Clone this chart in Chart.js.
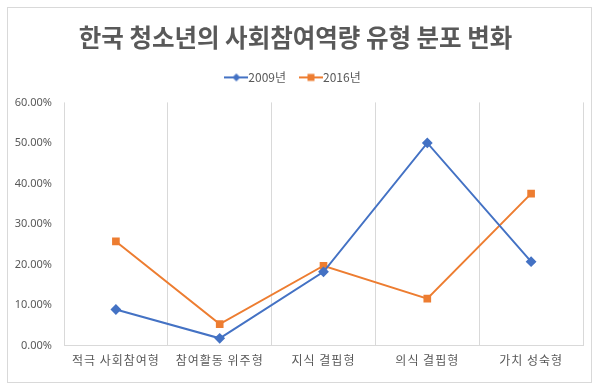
<!DOCTYPE html>
<html lang="ko">
<head>
<meta charset="UTF-8">
<title>한국 청소년의 사회참여역량 유형 분포 변화</title>
<script src="https://cdn.jsdelivr.net/npm/chart.js"></script>
<style>
    * { margin: 0; padding: 0; box-sizing: border-box; }
    body { background: #fff; width: 600px; height: 388px; position: relative; }
    .chart-box {
        position: absolute;
        left: 7px; top: 7px;
        width: 585px; height: 376px;
        border: 1px solid #d9d9d9;
        background: #fff;
    }
</style>
</head>
<body>
<div class="chart-box">
    <canvas id="c"></canvas>
</div>
<script>
const categories = ['적극 사회참여형', '참여활동 위주형', '지식 결핍형', '의식 결핍형', '가치 성숙형'];
const series2009 = [8.9, 1.8, 18.2, 50.0, 20.7];
const series2016 = [25.7, 5.3, 19.7, 11.6, 37.5];
const yTicks = [0, 10, 20, 30, 40, 50, 60];

const FONT = "'Noto Sans CJK KR', 'Noto Sans', sans-serif";
const BLUE = '#4472c4';
const ORANGE = '#ed7d31';

// legend icon: short line with marker in the middle
function legendIcon(color, shape) {
    const cv = document.createElement('canvas');
    cv.width = 24; cv.height = 10;
    const g = cv.getContext('2d');
    g.strokeStyle = color;
    g.lineWidth = 2;
    g.beginPath(); g.moveTo(0, 5); g.lineTo(24, 5); g.stroke();
    g.fillStyle = color;
    if (shape === 'diamond') {
        g.beginPath(); g.moveTo(12, 1); g.lineTo(16, 5); g.lineTo(12, 9); g.lineTo(8, 5); g.closePath(); g.fill();
    } else {
        g.fillRect(8.5, 1.5, 7, 7);
    }
    return cv;
}

// extra space under the legend + wider tracking on category labels
const tweaks = {
    id: 'tweaks',
    beforeInit(chart) {
        const fit = chart.legend.fit;
        chart.legend.fit = function () {
            fit.call(this);
            this.height += 9;
        };
    },
    afterLayout(chart) {
        const s = chart.scales.x;
        if (s._spaced) return;
        const orig = s.drawLabels;
        s.drawLabels = function (area) {
            this.ctx.save();
            this.ctx.letterSpacing = '1px';
            orig.call(this, area);
            this.ctx.restore();
        };
        s._spaced = true;
    }
};

new Chart(document.getElementById('c'), {
    type: 'line',
    data: {
        labels: categories,
        datasets: [
            {
                label: '2009년',
                data: series2009,
                borderColor: BLUE,
                backgroundColor: BLUE,
                borderWidth: 2,
                pointStyle: 'rectRot',
                pointRadius: 4,
                tension: 0
            },
            {
                label: '2016년',
                data: series2016,
                borderColor: ORANGE,
                backgroundColor: ORANGE,
                borderWidth: 2,
                pointStyle: 'rect',
                pointRadius: 4,
                tension: 0
            }
        ]
    },
    options: {
        responsive: true,
        maintainAspectRatio: false,
        animation: false,
        layout: { padding: { left: 0, right: 8, top: 0, bottom: 6 } },
        scales: {
            x: {
                offset: true,
                grid: { display: true, offset: true, color: '#d9d9d9', drawTicks: false },
                border: { display: true, color: '#d9d9d9' },
                ticks: { color: '#595959', font: { family: FONT, size: 12 }, padding: 8, maxRotation: 0 }
            },
            y: {
                min: 0,
                max: 60,
                afterBuildTicks: axis => { axis.ticks = yTicks.map(v => ({ value: v })); },
                afterFit: axis => { axis.width = 56; },
                grid: { display: false },
                border: { display: false },
                ticks: {
                    color: '#595959',
                    font: { family: "'Noto Sans', sans-serif", size: 11 },
                    padding: 4,
                    callback: v => v.toFixed(2) + '%'
                }
            }
        },
        plugins: {
            title: {
                display: true,
                text: '한국 청소년의 사회참여역량 유형 분포 변화',
                color: '#595959',
                font: { family: FONT, size: 24.5, weight: 'bold' },
                padding: { top: 15, bottom: 0 }
            },
            legend: {
                position: 'top',
                labels: {
                    color: '#595959',
                    font: { family: FONT, size: 12 },
                    usePointStyle: true,
                    padding: 19,
                    generateLabels: chart => chart.data.datasets.map((ds, i) => ({
                        text: ds.label,
                        fontColor: '#595959',
                        pointStyle: legendIcon(ds.borderColor, i === 0 ? 'diamond' : 'square'),
                        datasetIndex: i,
                        lineWidth: 0
                    }))
                }
            },
            tooltip: { enabled: false }
        }
    },
    plugins: [tweaks]
});
</script>
</body>
</html>
